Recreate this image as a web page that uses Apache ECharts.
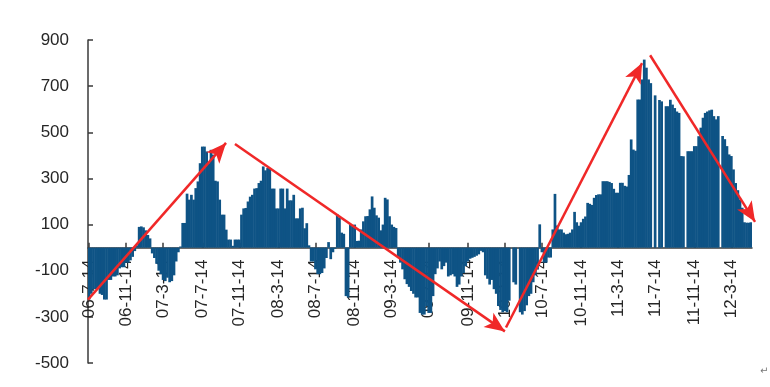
<!DOCTYPE html>
<html><head><meta charset="utf-8">
<script src="https://cdn.jsdelivr.net/npm/echarts@6/dist/echarts.min.js"></script>
<style>html,body{margin:0;padding:0;background:#fff}#c{width:770px;height:387px}</style>
</head><body><div id="c"></div>
<script>
// weekly categories starting from this date
const startDate = [2006, 7, 14];
const weekCount = 305;

// x-axis tick labels (yy-m-d)
const tickLabels = ['06-7-14','06-11-14','07-3-14','07-7-14','07-11-14','08-3-14','08-7-14','08-11-14','09-3-14','09-7-14','09-11-14','10-3-14','10-7-14','10-11-14','11-3-14','11-7-14','11-11-14','12-3-14'];

// y-axis
const yMin = -500, yMax = 900, yStep = 200;

// weekly values
const values = [
-225,-200,-180,-180,-175,-200,-205,-225,-225,-140,
-140,-125,-125,-120,-90,-85,-85,-65,-65,-55,
-40,-15,10,90,92,88,75,55,40,-25,
-45,-70,-100,-115,-140,-145,-130,-150,-145,-120,
-60,-20,5,107,107,234,208,229,208,258,
287,366,438,438,417,366,424,403,290,287,
208,143,143,78,35,35,8,35,35,35,
143,170,172,200,221,229,256,258,280,290,
352,335,345,345,256,256,170,170,256,256,
170,256,205,205,229,127,127,170,173,84,
106,10,-60,-60,-94,-115,-115,-110,-90,-45,
24,-50,-20,-5,144,130,65,60,-210,-216,
101,96,100,29,30,79,114,136,137,166,
222,173,140,130,75,100,216,209,136,100,
90,85,-40,-65,-94,-137,-158,-170,-188,-200,
-216,-216,-283,-290,-290,-253,-283,-283,-210,-115,
-90,-60,-94,-80,-65,-125,-120,-115,-125,-170,
-160,-125,-110,-80,-60,-48,-44,-40,-35,-29,
-14,-20,-120,-135,-160,-140,-180,-200,-253,-270,
-280,-275,-280,-230,0,-150,-160,0,-280,-290,
-275,-250,-210,-200,-150,-120,-95,101,-20,-65,
-65,-43,-43,79,233,96,79,79,65,58,
60,65,79,155,110,95,110,125,135,194,
190,185,216,228,231,231,288,288,288,285,
280,255,238,238,281,281,268,265,315,469,
425,420,642,642,729,815,780,729,713,0,
660,0,640,634,0,613,613,641,620,605,
590,584,397,396,0,418,418,418,440,440,
483,520,563,584,590,595,598,570,556,570,
0,484,470,440,404,397,339,280,249,209,
173,110,108,108,110
];

// red trend arrows: [week index, value] start -> end
const arrowStarts = [[-0.5,-225],[67,449],[191.5,-346],[257.7,834]];
const arrowEnds   = [[62.9,454],[191,-363],[254,800],[305.9,112]];

const categories = [];
const t0 = Date.UTC(startDate[0], startDate[1]-1, startDate[2]);
for (let i = 0; i < weekCount; i++) {
  const d = new Date(t0 + i*7*86400000);
  categories.push(String(d.getUTCFullYear()%100).padStart(2,'0') + '-' + (d.getUTCMonth()+1) + '-' + d.getUTCDate());
}
const tickMap = {};
tickLabels.forEach(function(lab){
  const p = lab.split('-').map(Number);
  const t = Date.UTC(2000+p[0], p[1]-1, p[2]);
  const idx = Math.floor((t - t0)/(7*86400000));
  tickMap[idx] = lab;
});

const W = 770, H = 387, L = 88, R = 18, T = 40, B = 24;
const plotW = W - L - R, plotH = H - T - B;
const extraMax = -0.5 + (W - L) * weekCount / plotW;  // same scale, wider grid for arrows
const zeroOffset = -plotH * (0 - yMin) / (yMax - yMin);  // lift category axis to the zero line

const FONT = 'Liberation Sans, Arial, sans-serif';
const chart = echarts.init(document.getElementById('c'), null, {renderer:'canvas'});
chart.setOption({
  animation: false,
  backgroundColor: '#ffffff',
  grid: [
    {left: L, right: R, top: T, bottom: B, containLabel: false, outerBoundsMode: 'none'},
    {left: L, right: 0, top: T, bottom: B, containLabel: false, outerBoundsMode: 'none'}
  ],
  xAxis: [{
    type: 'category',
    gridIndex: 0,
    position: 'bottom',
    offset: zeroOffset,
    data: categories,
    boundaryGap: true,
    axisLine: {onZero: false, lineStyle: {color: '#3a3a3a', width: 1.5}},
    axisTick: {show: true, inside: true, length: 5, alignWithLabel: true,
      interval: function(i){ return tickMap[i] !== undefined; },
      lineStyle: {color: '#3a3a3a', width: 1.5}},
    axisLabel: {show: true, rotate: 90, margin: 12, fontSize: 17, color: '#262626', fontFamily: FONT,
      interval: function(i){ return tickMap[i] !== undefined; },
      formatter: function(v, i){ return tickMap[i] || ''; }},
    splitLine: {show: false}
  },{
    type: 'value',
    gridIndex: 1,
    min: -0.5, max: extraMax,
    show: false
  }],
  yAxis: [{
    type: 'value', gridIndex: 0, min: yMin, max: yMax, interval: yStep,
    axisLine: {show: true, onZero: false, lineStyle: {color: '#3a3a3a', width: 1.5}},
    axisTick: {show: true, inside: true, length: 5, lineStyle: {color: '#3a3a3a', width: 1.5}},
    axisLabel: {margin: 19, fontSize: 17, color: '#262626', fontFamily: FONT},
    splitLine: {show: false}
  },{
    type: 'value', gridIndex: 1, min: yMin, max: yMax, show: false
  }],
  series: [{
    type: 'bar',
    data: values,
    barWidth: 2.7,
    barGap: '-100%',
    itemStyle: {color: '#0e5385'},
    silent: true
  },{
    type: 'line',
    xAxisIndex: 1,
    yAxisIndex: 1,
    data: [],
    clip: false,
    silent: true,
    markLine: {
      silent: true,
      animation: false,
      symbol: ['none', 'arrow'],
      symbolSize: [13, 20],
      label: {show: false},
      lineStyle: {color: '#f02828', width: 2.5, type: 'solid'},
      emphasis: {disabled: true},
      data: arrowStarts.map(function(s, k){
        return [{coord: s}, {coord: arrowEnds[k]}];
      })
    }
  }],
  graphic: [{type: 'text', left: 760, top: 366, style: {text: '↵', fontSize: 10, fill: '#777', fontFamily: 'DejaVu Sans'}}]
});
</script>
</body></html>
